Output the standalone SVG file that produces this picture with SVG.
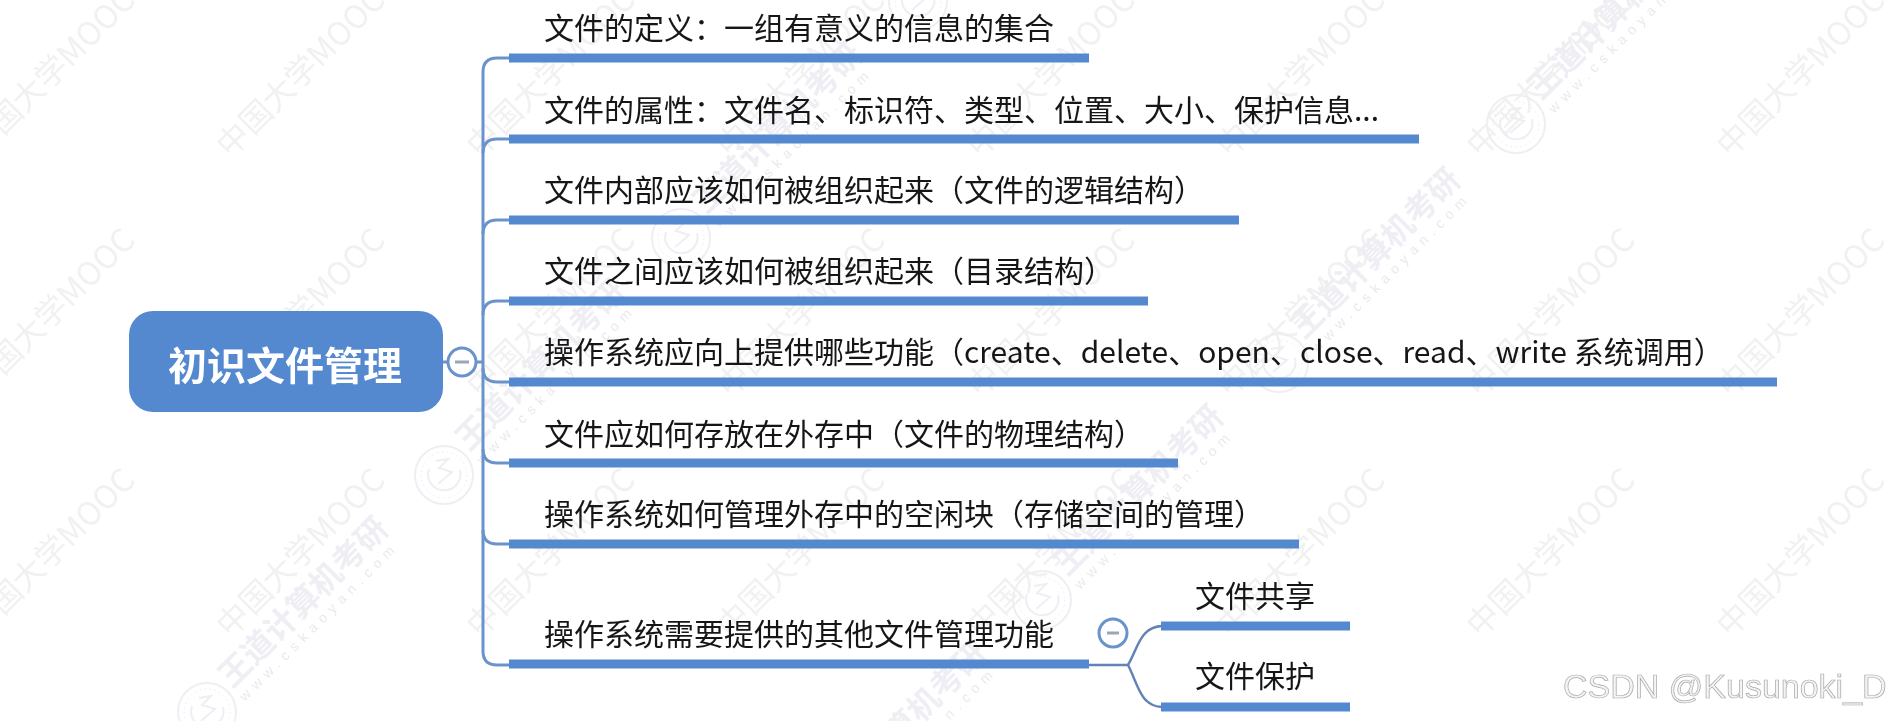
<svg xmlns="http://www.w3.org/2000/svg" width="1893" height="721" viewBox="0 0 1893 721">
<style>
.t{font-family:"Noto Sans CJK SC","Noto Sans",sans-serif;font-size:30px;fill:#161616}
.bar{stroke:#5489cf;stroke-width:9;fill:none}
.link{stroke:#6b93cc;stroke-width:3;fill:none}
.link2{stroke:#6283b8;stroke-width:2.5;fill:none}
.wm{font-family:"Noto Sans CJK SC","Liberation Sans",sans-serif;font-size:32px;fill:#f1f1f1}
.wd{font-family:"Noto Sans CJK SC",sans-serif;font-size:32px;font-weight:700;fill:#eeeef4}
.www{font-family:"Liberation Sans",sans-serif;font-size:14px;letter-spacing:6px;fill:#e9e9ee}
.logoline{fill:none;stroke:#eeeef4;stroke-width:2}
.tog{fill:#fff;stroke:#6b93cc;stroke-width:3}
.dash{stroke:#9aa7bb;stroke-width:3}
</style>
<defs>
<filter id="soft" filterUnits="userSpaceOnUse" x="0" y="0" width="1893" height="721"><feGaussianBlur stdDeviation="0.55"/></filter>
<g id="logo" class="logoline">
<circle r="29"/><circle r="23" stroke-dasharray="2 3" stroke-width="1"/>
<path d="M-15 -6A16 16 0 0 0 3 15A16 16 0 0 0 16 -5"/>
<path d="M-8 -14L4 -16L-5 -7L8 -3L-6 9"/>
</g>
</defs>
<rect width="1893" height="721" fill="#fff"/>
<g filter="url(#soft)">
<g id="watermarks">
<text class="wm" transform="translate(-20 159) rotate(-45)">中国大学MOOC</text>
<text class="wm" transform="translate(230 159) rotate(-45)">中国大学MOOC</text>
<text class="wm" transform="translate(480 159) rotate(-45)">中国大学MOOC</text>
<text class="wm" transform="translate(730 159) rotate(-45)">中国大学MOOC</text>
<text class="wm" transform="translate(980 159) rotate(-45)">中国大学MOOC</text>
<text class="wm" transform="translate(1230 159) rotate(-45)">中国大学MOOC</text>
<text class="wm" transform="translate(1480 159) rotate(-45)">中国大学MOOC</text>
<text class="wm" transform="translate(1730 159) rotate(-45)">中国大学MOOC</text>
<text class="wm" transform="translate(-20 399) rotate(-45)">中国大学MOOC</text>
<text class="wm" transform="translate(230 399) rotate(-45)">中国大学MOOC</text>
<text class="wm" transform="translate(480 399) rotate(-45)">中国大学MOOC</text>
<text class="wm" transform="translate(730 399) rotate(-45)">中国大学MOOC</text>
<text class="wm" transform="translate(980 399) rotate(-45)">中国大学MOOC</text>
<text class="wm" transform="translate(1230 399) rotate(-45)">中国大学MOOC</text>
<text class="wm" transform="translate(1480 399) rotate(-45)">中国大学MOOC</text>
<text class="wm" transform="translate(1730 399) rotate(-45)">中国大学MOOC</text>
<text class="wm" transform="translate(-20 639) rotate(-45)">中国大学MOOC</text>
<text class="wm" transform="translate(230 639) rotate(-45)">中国大学MOOC</text>
<text class="wm" transform="translate(480 639) rotate(-45)">中国大学MOOC</text>
<text class="wm" transform="translate(730 639) rotate(-45)">中国大学MOOC</text>
<text class="wm" transform="translate(980 639) rotate(-45)">中国大学MOOC</text>
<text class="wm" transform="translate(1230 639) rotate(-45)">中国大学MOOC</text>
<text class="wm" transform="translate(1480 639) rotate(-45)">中国大学MOOC</text>
<text class="wm" transform="translate(1730 639) rotate(-45)">中国大学MOOC</text>
<g id="wd1" transform="translate(207 712)"><use href="#logo"/><text class="wd" transform="translate(25 -23) rotate(-45)">王道计算机考研</text><text class="www" transform="translate(38 -10) rotate(-45)">www.cskaoyan.com</text></g>
<g id="wd2" transform="translate(444 475)"><use href="#logo"/><text class="wd" transform="translate(25 -23) rotate(-45)">王道计算机考研</text><text class="www" transform="translate(38 -10) rotate(-45)">www.cskaoyan.com</text></g>
<g id="wd3" transform="translate(681 238)"><use href="#logo"/><text class="wd" transform="translate(25 -23) rotate(-45)">王道计算机考研</text><text class="www" transform="translate(38 -10) rotate(-45)">www.cskaoyan.com</text></g>
<g id="wd4" transform="translate(805 837)"><text class="wd" transform="translate(25 -23) rotate(-45)">王道计算机考研</text><text class="www" transform="translate(38 -10) rotate(-45)">www.cskaoyan.com</text></g>
<g id="wd5" transform="translate(1042 600)"><use href="#logo"/><text class="wd" transform="translate(25 -23) rotate(-45)">王道计算机考研</text><text class="www" transform="translate(38 -10) rotate(-45)">www.cskaoyan.com</text></g>
<g id="wd6" transform="translate(1279 363)"><use href="#logo"/><text class="wd" transform="translate(25 -23) rotate(-45)">王道计算机考研</text><text class="www" transform="translate(38 -10) rotate(-45)">www.cskaoyan.com</text></g>
<g id="wd7" transform="translate(1516 124)"><use href="#logo"/><text class="wd" transform="translate(25 -23) rotate(-45)">王道计算机考研</text><text class="www" transform="translate(38 -10) rotate(-45)">www.cskaoyan.com</text></g>
<use href="#logo" x="918" y="1"/>
</g>
<g id="connectors">
<path class="link" d="M443 362H483"/>
<path class="link" d="M509 58H497Q483 58 483 72V651Q483 665 497 665H509"/>
<path class="link" d="M483 153Q483 139 497 139H509"/>
<path class="link" d="M483 234Q483 220 497 220H509"/>
<path class="link" d="M483 315Q483 301 497 301H509"/>
<path class="link" d="M483 368Q483 382 497 382H509"/>
<path class="link" d="M483 449Q483 463 497 463H509"/>
<path class="link" d="M483 530Q483 544 497 544H509"/>
<path class="link2" d="M1088 665H1128"/>
<path class="link2" d="M1162 626C1140 627 1138 648 1128 665C1138 684 1140 706 1162 707"/>
</g>
<g id="root">
<rect x="129" y="311" width="314" height="101" rx="24" fill="#5489cf"/>
<text x="285" y="380" text-anchor="middle" style="font-family:'Noto Sans CJK SC',sans-serif;font-size:39px;font-weight:700;fill:#fff">初识文件管理</text>
<circle class="tog" cx="462" cy="362" r="14"/><path class="dash" d="M455 362H469"/>
</g>
<g id="n1"><path class="bar" d="M509 58H1089"/><text class="t" x="544" y="39">文件的定义&#xFF1A;一组有意义的信息的集合</text></g>
<g id="n2"><path class="bar" d="M509 139H1419"/><text class="t" x="544" y="121">文件的属性&#xFF1A;文件名、标识符、类型、位置、大小、保护信息...</text></g>
<g id="n3"><path class="bar" d="M509 220H1239"/><text class="t" x="544" y="201">文件内部应该如何被组织起来&#xFF08;文件的逻辑结构&#xFF09;</text></g>
<g id="n4"><path class="bar" d="M509 301H1148"/><text class="t" x="544" y="282">文件之间应该如何被组织起来&#xFF08;目录结构&#xFF09;</text></g>
<g id="n5"><path class="bar" d="M509 382H1777"/><text class="t" x="544" y="363">操作系统应向上提供哪些功能&#xFF08;create、delete、open、close、read、write 系统调用&#xFF09;</text></g>
<g id="n6"><path class="bar" d="M509 463H1178"/><text class="t" x="544" y="445">文件应如何存放在外存中&#xFF08;文件的物理结构&#xFF09;</text></g>
<g id="n7"><path class="bar" d="M509 544H1299"/><text class="t" x="544" y="525">操作系统如何管理外存中的空闲块&#xFF08;存储空间的管理&#xFF09;</text></g>
<g id="n8"><path class="bar" d="M509 664H1089"/><text class="t" x="544" y="645">操作系统需要提供的其他文件管理功能</text>
<circle class="tog" cx="1113" cy="633" r="14"/><path class="dash" d="M1107 633H1119"/></g>
<g id="n9"><path class="bar" d="M1161 626H1350"/><text class="t" x="1195" y="607">文件共享</text></g>
<g id="n10"><path class="bar" d="M1161 707H1350"/><text class="t" x="1195" y="687">文件保护</text></g>
<text x="1563" y="698" style="font-family:'Liberation Sans',sans-serif;font-size:34px;fill:#f4f4f4;stroke:#a8a8a8;stroke-width:0.7">CSDN @Kusunoki_D</text>
</g>
</svg>
